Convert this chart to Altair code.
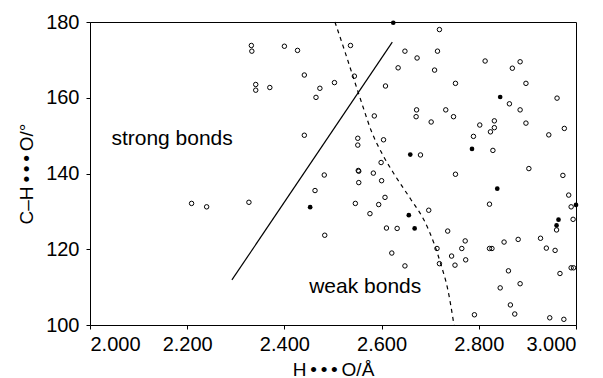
import altair as alt
import pandas as pd

# Open circles (H...O distance / Å, C-H...O angle / deg)
open_x = [2.332, 2.333, 2.341, 2.341, 2.400, 2.427, 2.536, 2.719, 2.648, 2.673,
          2.715, 2.634, 2.709, 2.441, 2.544, 2.370, 2.473, 2.503, 2.465, 2.608,
          2.672, 2.671, 2.702, 2.732, 2.585, 2.813, 2.869, 2.885, 2.752, 2.897,
          2.863, 2.885, 2.961, 2.748, 2.802, 2.832, 2.832, 2.824, 2.897, 2.976,
          2.789, 2.944, 2.829, 2.752, 2.903, 2.973, 2.822, 2.985, 2.990, 2.994,
          2.960, 2.736, 2.772, 2.765, 2.852, 2.881, 2.927, 2.939, 2.957, 2.822,
          2.827, 2.744, 2.751, 2.773, 2.861, 2.885, 2.844, 2.967, 2.990, 2.995,
          2.865, 2.874, 2.791, 2.946, 2.975, 2.441, 2.551, 2.551, 2.604, 2.680,
          2.599, 2.552, 2.553, 2.583, 2.482, 2.553, 2.600, 2.463, 2.546, 2.594,
          2.607, 2.576, 2.697, 2.610, 2.632, 2.483, 2.714, 2.209, 2.240, 2.327,
          2.621, 2.648, 2.719]
open_y = [173.8, 172.3, 163.5, 162.0, 173.6, 172.5, 173.8, 178.0, 172.3, 170.5,
          172.3, 167.9, 167.3, 166.0, 165.7, 162.7, 162.5, 164.0, 160.1, 163.1,
          156.8, 155.0, 153.6, 156.8, 155.2, 169.7, 167.8, 169.5, 163.8, 163.8,
          158.4, 156.8, 159.9, 155.0, 152.8, 153.9, 152.1, 151.0, 153.3, 151.9,
          149.8, 150.2, 146.1, 139.8, 141.3, 139.5, 131.9, 134.3, 131.2, 127.9,
          125.1, 124.8, 122.2, 120.2, 121.9, 122.6, 122.9, 120.3, 119.7, 120.2,
          120.2, 118.2, 115.8, 117.2, 114.3, 110.9, 109.8, 113.6, 115.1, 115.1,
          105.3, 102.9, 102.7, 101.9, 101.5, 150.1, 149.3, 147.5, 148.9, 144.9,
          142.9, 140.8, 140.6, 140.1, 139.6, 137.6, 138.1, 135.5, 132.1, 131.8,
          133.7, 129.4, 130.3, 125.6, 125.5, 123.7, 120.2, 132.1, 131.2, 132.4,
          119.0, 115.6, 116.2]

# Filled circles
filled_x = [2.624, 2.844, 2.786, 2.838, 3.000, 2.964, 2.960, 2.659, 2.453, 2.656, 2.668]
filled_y = [179.8, 160.2, 146.5, 136.0, 131.7, 127.8, 126.3, 145.0, 131.1, 129.0, 125.5]

# Solid dividing line
solid_x = [2.292, 2.622]
solid_y = [111.9, 174.7]

# Dashed dividing curve
dash_x = [2.504, 2.525, 2.544, 2.562, 2.578, 2.602, 2.626, 2.660, 2.688, 2.708, 2.722, 2.736, 2.749]
dash_y = [180.0, 172.0, 164.5, 157.5, 151.5, 145.0, 139.8, 133.2, 127.5, 121.5, 116.0, 109.5, 100.0]

# Annotations
label_text = ["strong bonds", "weak bonds"]
label_x = [2.044, 2.451]
label_y = [147.5, 108.5]

x_ticks = [2.0, 2.2, 2.4, 2.6, 2.8, 3.0]
y_ticks = [100, 120, 140, 160, 180]

FONT = "Liberation Sans"
TS = "\u2009"

xs = alt.Scale(domain=[2.0, 3.0], nice=False, zero=False)
ys = alt.Scale(domain=[100, 180], nice=False, zero=False)

x_axis = alt.Axis(values=x_ticks, format=".3f",
                  title=f"H{TS}•{TS}•{TS}•{TS}O/Å", grid=False,
                  tickSize=4, labelPadding=5, titlePadding=6)
y_axis = alt.Axis(values=y_ticks, format="d",
                  title=f"C–H{TS}•{TS}•{TS}•{TS}O/°", grid=False,
                  tickSize=4, labelPadding=7, titlePadding=9)

open_df = pd.DataFrame({"x": open_x, "y": open_y})
filled_df = pd.DataFrame({"x": filled_x, "y": filled_y})
solid_df = pd.DataFrame({"x": solid_x, "y": solid_y})
dash_df = pd.DataFrame({"x": dash_x, "y": dash_y, "o": list(range(len(dash_x)))})
text_df = pd.DataFrame({"x": label_x, "y": label_y, "t": label_text})

base_x = alt.X("x:Q", scale=xs, axis=x_axis)
base_y = alt.Y("y:Q", scale=ys, axis=y_axis)

open_pts = alt.Chart(open_df).mark_point(
    shape="circle", filled=False, color="black", size=20, strokeWidth=1, opacity=1
).encode(x=base_x, y=base_y)

filled_pts = alt.Chart(filled_df).mark_point(
    shape="circle", filled=True, color="black", size=22, opacity=1
).encode(x="x:Q", y="y:Q")

solid_line = alt.Chart(solid_df).mark_line(color="black", strokeWidth=1.2).encode(
    x="x:Q", y="y:Q")

dash_line = alt.Chart(dash_df).mark_line(
    color="black", strokeWidth=1.2, strokeDash=[4, 4], interpolate="monotone"
).encode(x="x:Q", y="y:Q", order="o:Q")

texts = alt.Chart(text_df).mark_text(
    align="left", baseline="alphabetic", font=FONT, fontSize=21, color="black"
).encode(x="x:Q", y="y:Q", text="t:N")

chart = alt.layer(open_pts, filled_pts, solid_line, dash_line, texts).properties(
    width=486, height=303,
    padding={"left": 9, "top": 4, "right": 5, "bottom": 5},
).configure_view(
    stroke="black", strokeWidth=1
).configure_axis(
    domainColor="black", tickColor="black", labelColor="black", titleColor="black",
    labelFont=FONT, titleFont=FONT, labelFontSize=20, titleFontSize=19,
    titleFontWeight="normal", domainWidth=1, tickWidth=1
)

chart.save("out.html", embed_options={"renderer": "svg", "actions": False})
